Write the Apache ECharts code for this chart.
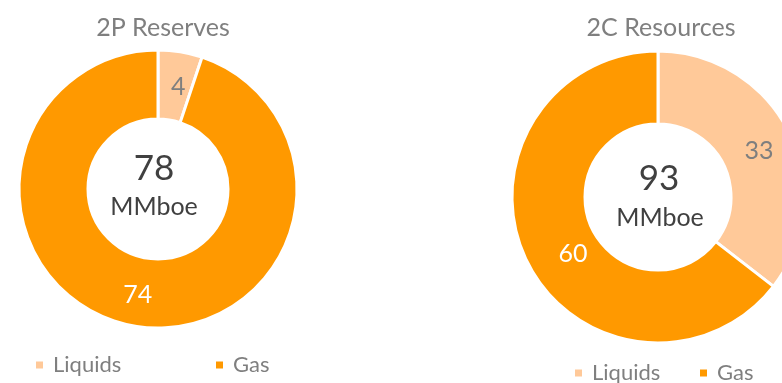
<!DOCTYPE html>
<html>
<head>
<meta charset="utf-8">
<script src="https://cdn.jsdelivr.net/npm/echarts@6/dist/echarts.min.js"></script>
<style>
  html, body { margin: 0; padding: 0; background: #fff; }
  #main { width: 782px; height: 383px; }
</style>
</head>
<body>
<div id="main"></div>
<script>
// data
var categories = ['Liquids', 'Gas'];
var reserves2P = [4, 74];
var resources2C = [33, 60];
var chartTitles = ['2P Reserves', '2C Resources'];
var unitLabel = 'MMboe';

var FONT = 'Lato';
var colors = ['#ffc999', '#ff9900'];
var labelColors = ['#7f7f7f', '#ffffff'];

function sum(arr) {
    var s = 0;
    for (var i = 0; i < arr.length; i++) {
        s += arr[i];
    }
    return s;
}

// offsets nudge labels where excel "best fit" put them off the slice middle
function pieData(values, offsets) {
    var out = [];
    for (var i = 0; i < values.length; i++) {
        out.push({
            name: categories[i],
            value: values[i],
            itemStyle: { color: colors[i] },
            label: { color: labelColors[i], offset: offsets[i] }
        });
    }
    return out;
}

function donut(name, values, center, radius, offsets) {
    return {
        name: name,
        type: 'pie',
        center: center,
        radius: radius,
        startAngle: 90,
        clockwise: true,
        silent: true,
        itemStyle: { borderColor: '#fff', borderWidth: 3 },
        label: {
            show: true,
            position: 'inside',
            formatter: '{c}',
            fontFamily: FONT,
            fontSize: 25
        },
        labelLine: { show: false },
        data: pieData(values, offsets)
    };
}

function legendItem(name, left, top) {
    return {
        data: [name],
        left: left,
        top: top,
        padding: 0,
        icon: 'rect',
        itemWidth: 9,
        itemHeight: 9,
        selectedMode: false,
        textStyle: { fontFamily: FONT, fontSize: 22, color: '#7f7f7f', padding: [0, 0, 0, 4] }
    };
}

var chart = echarts.init(document.getElementById('main'));

var option = {
    animation: false,
    title: [
        {
            text: chartTitles[0],
            left: 158, top: 10, textAlign: 'center',
            textStyle: { fontFamily: FONT, fontSize: 25, fontWeight: 'normal', color: '#7f7f7f' }
        },
        {
            text: chartTitles[1],
            left: 656, top: 10, textAlign: 'center',
            textStyle: { fontFamily: FONT, fontSize: 25, fontWeight: 'normal', color: '#7f7f7f' }
        }
    ],
    legend: [
        legendItem(categories[0], 34, 354),
        legendItem(categories[1], 214, 354),
        legendItem(categories[0], 573, 362),
        legendItem(categories[1], 698, 362)
    ],
    graphic: [
        { type: 'text', x: 154, y: 169, style: { text: String(sum(reserves2P)), fontFamily: FONT, fontSize: 35, fill: '#404040', align: 'center', verticalAlign: 'middle' } },
        { type: 'text', x: 154, y: 207, style: { text: unitLabel, fontFamily: FONT, fontSize: 25, fill: '#404040', align: 'center', verticalAlign: 'middle' } },
        { type: 'text', x: 659, y: 179, style: { text: String(sum(resources2C)), fontFamily: FONT, fontSize: 35, fill: '#404040', align: 'center', verticalAlign: 'middle' } },
        { type: 'text', x: 660, y: 218, style: { text: unitLabel, fontFamily: FONT, fontSize: 25, fill: '#404040', align: 'center', verticalAlign: 'middle' } }
    ],
    series: [
        donut(chartTitles[0], reserves2P, [158, 189], [70, 139], [[3, 4], [-3, 0]]),
        donut(chartTitles[1], resources2C, [658, 197], [73, 146], [[0, 3], [16, 7]])
    ]
};

chart.setOption(option);
</script>
</body>
</html>
